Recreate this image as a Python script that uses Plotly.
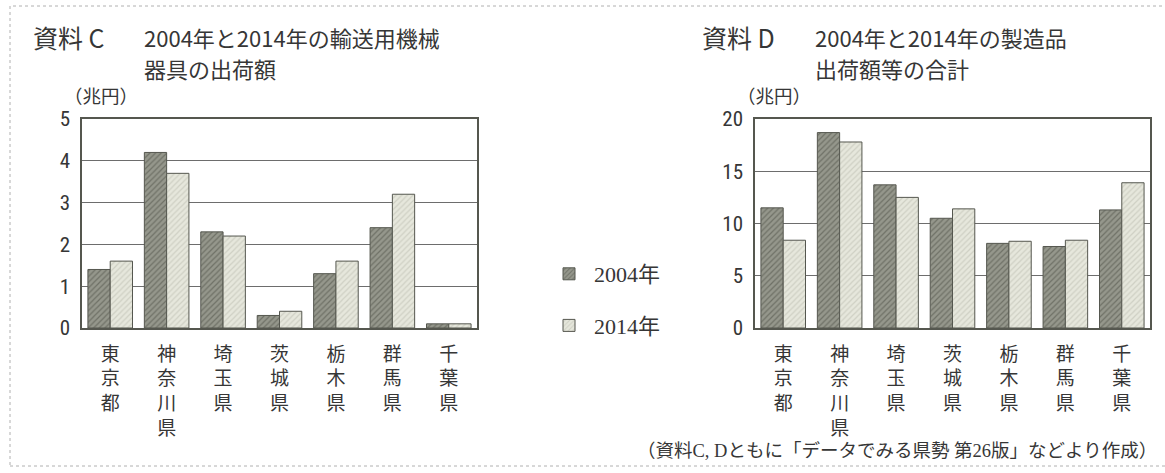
import plotly.graph_objects as go

prefectures = ["東京都", "神奈川県", "埼玉県", "茨城県", "栃木県", "群馬県", "千葉県"]
years = ["2004年", "2014年"]
transport_2004 = [1.4, 4.2, 2.3, 0.3, 1.3, 2.4, 0.1]
transport_2014 = [1.6, 3.7, 2.2, 0.4, 1.6, 3.2, 0.1]
manufacturing_2004 = [11.5, 18.7, 13.7, 10.5, 8.1, 7.8, 11.3]
manufacturing_2014 = [8.4, 17.8, 12.5, 11.4, 8.3, 8.4, 13.9]

W, H = 1165, 473
TXT = "#363636"
SANS = "Noto Sans CJK JP, sans-serif"
NUM = "Roboto Condensed, DejaVu Sans Condensed, Roboto, sans-serif"
SERIF = "Liberation Serif, Noto Sans CJK JP, serif"

def px(x):
    return x / W

def py(y):
    return 1 - y / H

xs = list(range(len(prefectures)))
vert = ["<br>".join(list(p)) for p in prefectures]

styles = {
    "2004年": dict(color="#8f9186", pattern=dict(shape="/", fgcolor="#6f7167", bgcolor="#95978c", size=4, solidity=0.3)),
    "2014年": dict(color="#e3e4d9", pattern=dict(shape="/", fgcolor="#cfd0c4", bgcolor="#e6e7dc", size=4, solidity=0.3)),
}

fig = go.Figure()
for name, vals in zip(years, [transport_2004, transport_2014]):
    fig.add_trace(go.Bar(x=xs, y=vals, name=name, xaxis="x", yaxis="y",
                         legendgroup=name,
                         marker=dict(color=styles[name]["color"], pattern=styles[name]["pattern"],
                                     line=dict(color="#55574f", width=1))))
for name, vals in zip(years, [manufacturing_2004, manufacturing_2014]):
    fig.add_trace(go.Bar(x=xs, y=vals, name=name, xaxis="x2", yaxis="y2",
                         legendgroup=name, showlegend=False,
                         marker=dict(color=styles[name]["color"], pattern=styles[name]["pattern"],
                                     line=dict(color="#55574f", width=1))))

xcommon = dict(range=[-0.5, 6.5], tickmode="array", tickvals=xs, ticktext=vert,
               showgrid=False, zeroline=False, showline=True, mirror=True,
               linecolor="#55574f", linewidth=1.5, ticks="", ticklabelstandoff=8,
               automargin=False,
               tickfont=dict(family=SANS, size=19, color=TXT), fixedrange=True)
ycommon = dict(showgrid=True, gridcolor="#6d6d6d", gridwidth=1, zeroline=False,
               showline=True, mirror=True, linecolor="#55574f", linewidth=1.5,
               ticks="", ticklabelstandoff=6, automargin=False, fixedrange=True,
               tickfont=dict(family=NUM, size=21, color=TXT))

fig.update_layout(
    template="none",
    width=W, height=H,
    margin=dict(l=0, r=0, t=0, b=0, pad=0, autoexpand=False),
    paper_bgcolor="white", plot_bgcolor="white",
    barmode="group", bargap=0.21, bargroupgap=0,
    showlegend=True, hovermode=False,
    legend=dict(x=px(544), y=py(253), xanchor="left", yanchor="top",
                font=dict(family=SERIF, size=22, color=TXT),
                tracegroupgap=20, traceorder="grouped",
                bgcolor="rgba(0,0,0,0)", itemwidth=40),
    xaxis=dict(domain=[px(82), px(477)], anchor="y", **xcommon),
    yaxis=dict(domain=[py(328), py(119)], anchor="x", range=[0, 5], dtick=1, **ycommon),
    xaxis2=dict(domain=[px(755), px(1150)], anchor="y2", **xcommon),
    yaxis2=dict(domain=[py(328), py(119)], anchor="x2", range=[0, 20], dtick=5, **ycommon),
)

ann = [
    dict(text="資料 C", x=px(31), y=py(37), size=25, font=SANS),
    dict(text="2004年と2014年の輸送用機械", x=px(142), y=py(37), size=22, font=SANS),
    dict(text="器具の出荷額", x=px(142), y=py(68), size=22, font=SANS),
    dict(text="（兆円）", x=px(62), y=py(95), size=18.5, font=SANS),
    dict(text="資料 D", x=px(700), y=py(37), size=25, font=SANS),
    dict(text="2004年と2014年の製造品", x=px(813), y=py(37), size=22, font=SANS),
    dict(text="出荷額等の合計", x=px(813), y=py(68), size=22, font=SANS),
    dict(text="（兆円）", x=px(735), y=py(95), size=18.5, font=SANS),
]
for a in ann:
    fig.add_annotation(text=a["text"], x=a["x"], y=a["y"], xref="paper", yref="paper",
                       xanchor="left", yanchor="middle", showarrow=False,
                       font=dict(family=a["font"], size=a["size"], color=TXT))
fig.add_annotation(text="（資料C, Dともに「データでみる県勢 第26版」などより作成）",
                   x=px(1159), y=py(451), xref="paper", yref="paper",
                   xanchor="right", yanchor="middle", showarrow=False,
                   font=dict(family=SERIF, size=18.5, color=TXT))

fig.add_shape(type="rect", xref="paper", yref="paper",
              x0=px(10), x1=px(1175), y0=py(466), y1=py(6),
              line=dict(color="#b0b0b0", width=1, dash="dot"), fillcolor="rgba(0,0,0,0)", layer="below")

fig.write_html("out.html", config={"displayModeBar": False, "responsive": False},
               post_script="document.body.style.margin='0';document.body.style.overflow='hidden';")
